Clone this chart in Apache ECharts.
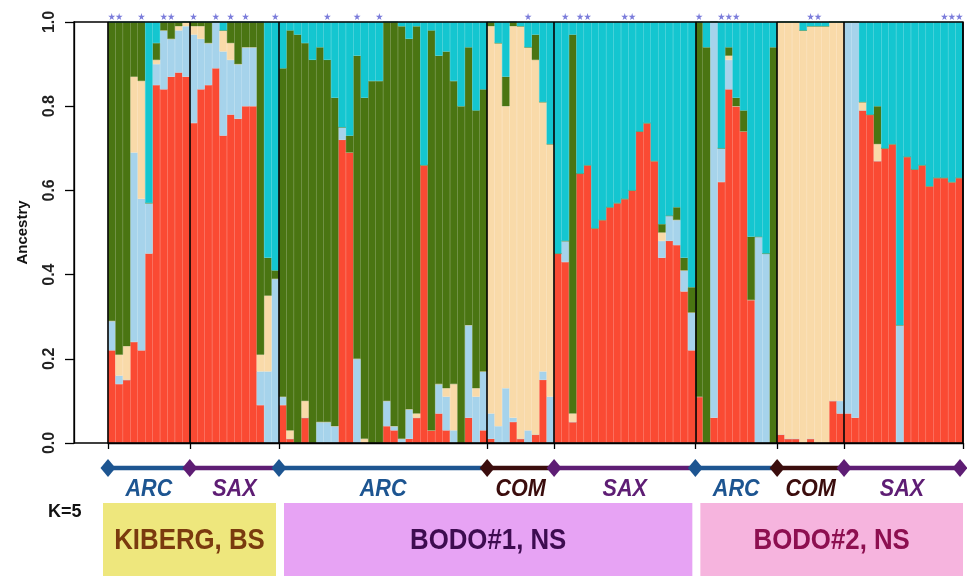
<!DOCTYPE html>
<html><head><meta charset="utf-8">
<script src="https://cdn.jsdelivr.net/npm/echarts@6/dist/echarts.min.js"></script>
<style>html,body{margin:0;padding:0;background:#fff}#c{width:967px;height:576px}</style>
</head><body><div id="c"></div>
<script>
// ---- groups (ancestry groups along x) ----
const groupNames = ['ARC','SAX','ARC','COM','SAX','ARC','COM','SAX'];
const groupSizes = [11,12,28,9,19,11,9,16];
const siteNames = ['KIBERG, BS','BODO#1, NS','BODO#2, NS'];
const siteGroupSpan = [[0,2],[2,5],[5,8]];
const yTicks = [0,0.2,0.4,0.6,0.8,1.0];
const kLabel = 'K=5';

// ---- ancestry proportions per individual (cluster 1..5, bottom to top) ----
const clusterRed = [
 .22,.14,.15,.24,.22,.45,.85,.84,.87,.88,.87,
 .76,.84,.85,.89,.73,.78,.77,.80,.80,.09,0,0,
 .09,.01,0,.06,0,0,0,0,.72,.69,0,0,0,0,.04,.03,0,.01,.06,.66,.03,.07,.03,0,0,.06,0,.03,
 .01,0,0,.05,.01,0,.02,.15,0,
 .45,.43,.05,.64,.66,.51,.53,.56,.57,.58,.60,.74,.76,.67,.44,.48,.47,.36,.22,
 .11,0,.06,.62,.84,.80,.74,.34,0,0,0,
 .02,.01,.01,0,.01,0,0,.10,.07,
 .07,.06,.79,.78,.67,.70,.71,0,.68,.65,.66,.61,.63,.63,.62,.63
];
const clusterLightBlue = [
 .07,.02,0,.45,.36,.12,.05,.14,.09,.10,.12,
 .21,.12,.10,.11,.20,.13,.13,.14,.14,.08,.17,.39,
 .02,0,0,0,0,.05,.05,.04,.03,0,.20,0,0,0,.06,.01,.01,.07,0,0,0,.07,.08,.03,0,.22,.11,.14,
 .06,.04,.13,.01,0,.03,0,.02,.11,
 0,.05,0,0,0,0,0,0,0,0,0,0,0,0,.04,.06,.06,.05,.09,
 0,0,.94,.08,.07,0,0,0,.49,.45,0,
 0,0,0,0,0,0,0,0,.03,
 .93,.94,0,0,0,0,0,.28,0,0,0,0,0,0,0,0
];
const clusterTan = [
 0,.05,.08,.18,.28,0,.01,0,0,.01,.01,
 .02,.03,0,0,.05,.04,0,0,0,.04,.18,0,
 0,.02,0,.04,0,0,0,0,0,0,0,.01,0,0,0,0,0,0,.01,0,0,0,.02,.11,0,0,.02,0,
 .92,.91,.67,.93,.98,.91,.89,.64,.60,
 0,0,.02,0,0,0,0,0,0,0,0,0,0,0,.02,0,0,0,0,
 0,0,0,0,.01,0,0,0,0,0,0,
 .98,.99,.99,.98,.98,.99,.99,.90,.90,
 0,0,.02,0,.04,0,0,0,0,0,0,0,0,0,0,0
];
const clusterGreen = [
 .71,.79,.77,.13,.14,0,.04,.02,.04,.01,0,
 .01,.01,.05,0,0,.05,.10,.06,.06,.79,.09,.02,
 .78,.95,.97,.85,.91,.89,.86,.78,0,.04,.72,.81,.86,.86,.90,.96,.98,.88,.92,0,.95,.78,.80,.72,.80,.66,.66,.67,
 .01,0,.07,.01,0,0,.06,0,0,
 0,0,.90,0,0,0,0,0,0,0,0,0,0,0,.02,0,.03,.03,.06,
 .89,.94,0,0,.02,.02,.05,.15,0,0,.94,
 0,0,0,0,0,0,0,0,0,
 0,0,0,0,.09,0,0,0,0,0,0,0,0,0,0,0
];
const clusterCyan = [
 0,0,0,0,0,.43,.05,0,0,0,0,
 0,0,0,0,.02,0,0,0,0,0,.56,.59,
 .11,.02,.03,.05,.09,.06,.09,.18,.25,.27,.08,.18,.14,.14,0,0,.01,.04,.01,.34,.02,.08,.07,.14,.20,.06,.21,.16,
 0,.05,.13,0,.01,.06,.03,.19,.29,
 .55,.52,.03,.36,.34,.49,.47,.44,.43,.42,.40,.26,.24,.33,.48,.46,.44,.56,.63,
 0,.06,0,.30,.06,.18,.21,.51,.51,.55,.06,
 0,0,0,.02,.01,.01,.01,0,0,
 0,0,.19,.22,.20,.30,.29,.72,.32,.35,.34,.39,.37,.37,.38,.37
];
// individuals marked with a star (0-based index)
const starIdx = [0,1,4,7,8,11,14,16,18,22,29,33,36,56,61,63,64,69,70,79,82,83,84,94,95,112,113,114];

// ---- derived ----
const categories = [];
const boundaries = [0];
groupSizes.forEach((n,g)=>{ for(let i=0;i<n;i++) categories.push(groupNames[g]+'-'+g+'-'+(i+1)); boundaries.push(boundaries[boundaries.length-1]+n); });
const bset = new Set(boundaries);

const GRID = {left:108, right:4, top:22, bottom:133};
const YOFF = 34;
const W = 967, H = 576;

const groupColor = {ARC:'#1D5591', SAX:'#5E1D74', COM:'#3B0D0D'};
const siteFill = ['#EEE77D','#E7A3F4','#F6B4DE'];
const siteText = ['#7A3A0E','#3D0C50','#8D0F50'];
const SANS = "'Liberation Sans', Arial, sans-serif";

const clusters = [
  {name:'C1', data:clusterRed, color:'#FA4A33'},
  {name:'C2', data:clusterLightBlue, color:'#A6D3EB'},
  {name:'C3', data:clusterTan, color:'#F9DAA9'},
  {name:'C4', data:clusterGreen, color:'#4A7512'},
  {name:'C5', data:clusterCyan, color:'#14C6D0'}
];

const chart = echarts.init(document.getElementById('c'), null, {renderer:'canvas'});
const isB = (idx) => bset.has(idx);
chart.setOption({
  animation:false,
  backgroundColor:'#fff',
  grid:{left:GRID.left, right:GRID.right, top:GRID.top, bottom:GRID.bottom},
  xAxis:{
    type:'category', data:categories, boundaryGap:true, z:5,
    axisLine:{show:true, lineStyle:{color:'#000', width:1.3}},
    axisTick:{show:true, interval:isB, length:6, lineStyle:{color:'#000', width:1.3}},
    axisLabel:{show:false},
    splitLine:{show:true, interval:isB, lineStyle:{color:'#000', width:1.6}}
  },
  yAxis:{
    type:'value', min:0, max:1, interval:0.2, offset:YOFF,
    name:'Ancestry', nameLocation:'middle', nameRotate:90, nameGap:44,
    nameTextStyle:{fontFamily:SANS, fontWeight:'bold', fontSize:15, color:'#111'},
    axisLine:{show:true, lineStyle:{color:'#000', width:1.3}},
    axisTick:{show:true, length:9, lineStyle:{color:'#000', width:1.3}},
    axisLabel:{rotate:90, margin:16, fontFamily:SANS, fontWeight:'bold', fontSize:16, color:'#222',
      formatter:(v)=>v.toFixed(1)},
    splitLine:{show:false}
  },
  series: clusters.map(c=>({
    type:'bar', name:c.name, stack:'q', data:c.data, barCategoryGap:'0%', barGap:'0%',
    itemStyle:{color:c.color, borderColor:c.color, borderWidth:0.4}, silent:true
  })).concat([{
    type:'scatter', data:starIdx.map(i=>[i,1.013]), clip:false, z:6,
    symbol:'path://M50,0 L61,35 L98,35 L68,57 L79,91 L50,70 L21,91 L32,57 L2,35 L39,35 Z',
    symbolSize:7, itemStyle:{color:'#5A5BD2'}, silent:true
  }])
});

// ---- annotations below the plot, positioned from the category axis ----
const p0 = chart.convertToPixel({xAxisIndex:0}, 0);
const p1 = chart.convertToPixel({xAxisIndex:0}, 1);
const band = p1 - p0;
const x0 = p0 - band/2;
const bx = boundaries.map(b => x0 + b*band);
const plotTop = GRID.top, plotBottom = H - GRID.bottom;
const g = [];
// frame
g.push({type:'rect', z:50, shape:{x:GRID.left-YOFF, y:plotTop, width:(W-GRID.right)-(GRID.left-YOFF), height:plotBottom-plotTop},
  style:{fill:null, stroke:'#000', lineWidth:1.3}});
const ly = 468;
const dx = bx.map((x,i) => i===bx.length-1 ? x-3 : x);
for (let i=0;i<groupNames.length;i++){
  const col = groupColor[groupNames[i]];
  g.push({type:'line', z:10, shape:{x1:dx[i], y1:ly, x2:dx[i+1], y2:ly}, style:{stroke:col, lineWidth:4.5}});
  g.push({type:'text', z:12, x:(dx[i]+dx[i+1])/2, y:489, scaleX:0.9,
    style:{text:groupNames[i], fill:col, font:'italic bold 24px '+SANS, align:'center', verticalAlign:'middle'}});
}
for (let i=0;i<dx.length;i++){
  const col = groupColor[groupNames[Math.min(i, groupNames.length-1)]];
  const cx = dx[i];
  g.push({type:'polygon', z:11, shape:{points:[[cx-7.5,ly],[cx,ly-9],[cx+7.5,ly],[cx,ly+9]]}, style:{fill:col}});
}
g.push({type:'text', z:12, x:48, y:512, style:{text:kLabel, fill:'#111', font:'bold 18px '+SANS, align:'left', verticalAlign:'middle'}});
siteGroupSpan.forEach((sp,i)=>{
  const xa = bx[sp[0]] + (i===0 ? -5 : 5);
  const xb = bx[sp[1]] - (i===siteGroupSpan.length-1 ? 0 : 3);
  g.push({type:'rect', z:9, shape:{x:xa, y:503, width:xb-xa, height:H-503}, style:{fill:siteFill[i]}});
  g.push({type:'text', z:12, x:(xa+xb)/2, y:541, scaleX:0.86,
    style:{text:siteNames[i], fill:siteText[i], font:'bold 30px '+SANS, align:'center', verticalAlign:'middle'}});
});
chart.setOption({graphic:g});
</script></body></html>
